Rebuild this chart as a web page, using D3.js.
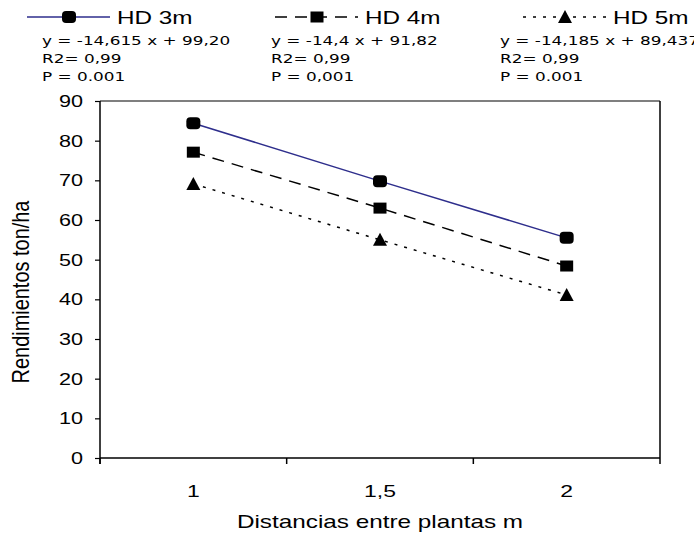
<!DOCTYPE html>
<html>
<head>
<meta charset="utf-8">
<script src="https://cdn.jsdelivr.net/npm/d3@7"></script>
<style>
  body { margin: 0; background: #fff; }
  svg { display: block; }
  text { font-family: "Liberation Sans", Arial, sans-serif; fill: #000; }
  .stat { font-family: "DejaVu Sans", Verdana, sans-serif; }
</style>
</head>
<body>
<svg id="chart" width="694" height="533"></svg>
<script>
// data
const categories = ["1", "1,5", "2"];
const hd3 = [84.4, 69.8, 55.5];
const hd4 = [77.1, 63.0, 48.4];
const hd5 = [69.1, 55.0, 41.1];
const seriesNames = ["HD 3m", "HD 4m", "HD 5m"];
const equations = ["y = -14,615 x + 99,20", "y = -14,4 x + 91,82", "y = -14,185 x + 89,437"];
const r2Labels = ["R2= 0,99", "R2= 0,99", "R2= 0,99"];
const pLabels = ["P = 0.001", "P = 0,001", "P = 0.001"];
const yTicks = [0, 10, 20, 30, 40, 50, 60, 70, 80, 90];

const sx = 1.35; // the source text is drawn wide
const svg = d3.select("#chart");
const plotLeft = 100, plotRight = 660, plotTop = 101, plotBottom = 458;

const x = d3.scaleBand().domain(categories).range([plotLeft, plotRight]).padding(0);
const y = d3.scaleLinear().domain([0, 90]).range([plotBottom, plotTop]);

const series = [
  { name: seriesNames[0], values: hd3, stroke: "#2e2e8c", dash: null, shape: "round" },
  { name: seriesNames[1], values: hd4, stroke: "#000", dash: "12,8", shape: "square" },
  { name: seriesNames[2], values: hd5, stroke: "#000", dash: "3,7", shape: "triangle" }
];

function wideText(g, px, py, str, anchor, size, cls) {
  const t = g.append("g").attr("transform", `translate(${px},${py}) scale(${sx},1)`)
    .append("text")
    .attr("text-anchor", anchor)
    .attr("font-size", size)
    .text(str);
  if (cls) t.attr("class", cls);
  return t;
}

function marker(g, shape, cx, cy) {
  if (shape === "round") {
    g.append("rect").attr("x", cx - 7).attr("y", cy - 6).attr("width", 14).attr("height", 12)
      .attr("rx", 4).attr("fill", "#000");
  } else if (shape === "square") {
    g.append("rect").attr("x", cx - 6.5).attr("y", cy - 5.5).attr("width", 13).attr("height", 11)
      .attr("fill", "#000");
  } else {
    g.append("path").attr("d", `M${cx},${cy - 7}L${cx + 7},${cy + 6}L${cx - 7},${cy + 6}Z`)
      .attr("fill", "#000");
  }
}

// frame: top and right
svg.append("line").attr("x1", plotLeft).attr("x2", plotRight).attr("y1", plotTop).attr("y2", plotTop)
  .attr("stroke", "#555").attr("stroke-width", 1.5);
svg.append("line").attr("x1", plotRight).attr("x2", plotRight).attr("y1", plotTop).attr("y2", plotBottom)
  .attr("stroke", "#000").attr("stroke-width", 1.5);

// y axis
const yAxis = svg.append("g").attr("transform", `translate(${plotLeft},0)`)
  .call(d3.axisLeft(y).tickValues(yTicks).tickSize(5).tickFormat(""));
yAxis.select(".domain").remove();
yAxis.selectAll(".tick line").attr("stroke", "#000").attr("stroke-width", 1.2);
svg.append("line").attr("x1", plotLeft).attr("x2", plotLeft).attr("y1", plotTop).attr("y2", plotBottom + 6)
  .attr("stroke", "#000").attr("stroke-width", 1.5);
yTicks.forEach(v => wideText(svg, 83, y(v) + 6, String(v), "end", 16));

// x axis
svg.append("line").attr("x1", plotLeft).attr("x2", plotRight).attr("y1", plotBottom).attr("y2", plotBottom)
  .attr("stroke", "#000").attr("stroke-width", 1.5);
const edges = categories.map(c => x(c)).concat([x(categories[categories.length - 1]) + x.bandwidth()]);
svg.selectAll(".xedge").data(edges).join("line")
  .attr("x1", d => d).attr("x2", d => d).attr("y1", plotBottom).attr("y2", plotBottom + 6)
  .attr("stroke", "#000").attr("stroke-width", 1.5);
categories.forEach(c => wideText(svg, x(c) + x.bandwidth() / 2, 497, c, "middle", 17));

// axis titles
wideText(svg, 380, 528, "Distancias entre plantas m", "middle", 18);
svg.append("text")
  .attr("transform", `translate(29,292) rotate(-90) scale(1.05,1.3)`)
  .attr("text-anchor", "middle")
  .attr("font-size", 19)
  .text("Rendimientos ton/ha");

// series
const line = d3.line()
  .x((d, i) => x(categories[i]) + x.bandwidth() / 2)
  .y(d => y(d));

series.forEach(s => {
  svg.append("path").datum(s.values)
    .attr("fill", "none")
    .attr("stroke", s.stroke)
    .attr("stroke-width", 1.5)
    .attr("stroke-dasharray", s.dash)
    .attr("d", line);
  const g = svg.append("g");
  s.values.forEach((v, i) => marker(g, s.shape, x(categories[i]) + x.bandwidth() / 2, y(v)));
});

// legend
const legX = [27, 275, 523];
const statX = [42, 271, 500];
series.forEach((s, i) => {
  const g = svg.append("g");
  g.append("line").attr("x1", legX[i]).attr("x2", legX[i] + 83).attr("y1", 17).attr("y2", 17)
    .attr("stroke", s.stroke).attr("stroke-width", 1.5).attr("stroke-dasharray", s.dash);
  marker(g, s.shape, legX[i] + 42, 17);
  wideText(g, legX[i] + 90, 24, s.name, "start", 18);
  wideText(g, statX[i], 45, equations[i], "start", 12.5, "stat");
  wideText(g, statX[i], 63, r2Labels[i], "start", 12.5, "stat");
  wideText(g, statX[i], 81, pLabels[i], "start", 12.5, "stat");
});
</script>
</body>
</html>
